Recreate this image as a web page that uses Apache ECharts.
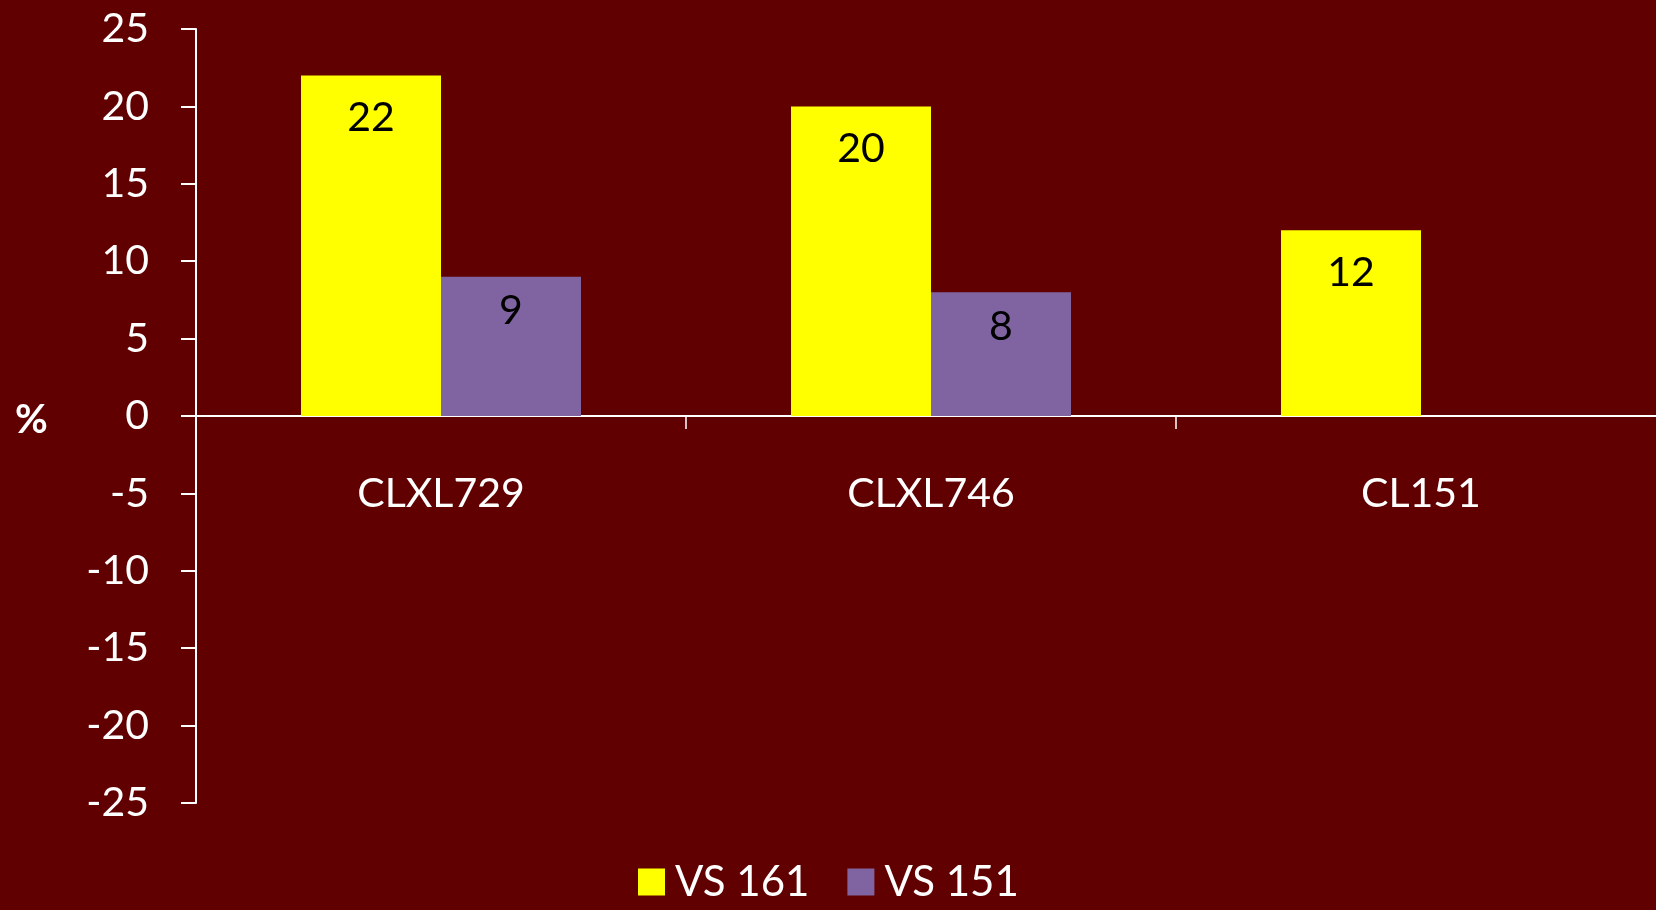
<!DOCTYPE html>
<html>
<head>
<meta charset="utf-8">
<script src="https://cdn.jsdelivr.net/npm/echarts@6/dist/echarts.min.js"></script>
<style>
html,body{margin:0;padding:0;background:#600000;overflow:hidden;width:1656px;height:910px;}
#chart{width:1670px;height:910px;}
</style>
</head>
<body>
<div id="chart"></div>
<script>
var categories = ['CLXL729', 'CLXL746', 'CL151'];
var seriesNames = ['VS 161', 'VS 151'];
var vs161 = [22, 20, 12];
var vs151 = [9, 8, '-'];
var yTicks = {min: -25, max: 25, interval: 5};

var FONT = 'Lato';
var chart = echarts.init(document.getElementById('chart'));
function barLabel(dist) {
  return {
    show: true, position: 'insideTop', distance: dist,
    color: '#000', fontSize: 41, fontFamily: FONT
  };
}
chart.setOption({
  backgroundColor: '#600000',
  animation: false,
  grid: {left: 196, top: 29, right: 4, height: 774, containLabel: false},
  legend: {
    data: seriesNames,
    bottom: 2, left: 633,
    itemWidth: 27, itemHeight: 27, itemGap: 38,
    icon: 'rect',
    textStyle: {color: '#fff', fontSize: 42, fontFamily: FONT, padding: [0, 0, 0, 5]}
  },
  xAxis: {
    type: 'category',
    data: categories,
    axisLine: {onZero: true, lineStyle: {color: '#fff', width: 2}},
    axisTick: {show: true, length: 13, lineStyle: {color: '#fff', width: 1.5}},
    axisLabel: {color: '#fff', fontSize: 41, fontFamily: FONT, margin: -330}
  },
  yAxis: {
    type: 'value',
    min: yTicks.min, max: yTicks.max, interval: yTicks.interval,
    splitLine: {show: false},
    axisLine: {show: true, lineStyle: {color: '#fff', width: 2}},
    axisTick: {show: true, length: 15, lineStyle: {color: '#fff', width: 2}},
    axisLabel: {color: '#fff', fontSize: 41, fontFamily: FONT, margin: 47}
  },
  graphic: [{
    type: 'text', left: 15, top: 400,
    style: {text: '%', fill: '#fff', fontSize: 40, fontWeight: 'bold', fontFamily: FONT}
  }],
  series: [
    {name: seriesNames[0], type: 'bar', data: vs161, barWidth: 140, barGap: '0%',
     itemStyle: {color: '#FFFF00'}, label: barLabel(22)},
    {name: seriesNames[1], type: 'bar', data: vs151, barWidth: 140, barGap: '0%',
     itemStyle: {color: '#8064A2'}, label: barLabel(14)}
  ]
});
</script>
</body>
</html>
